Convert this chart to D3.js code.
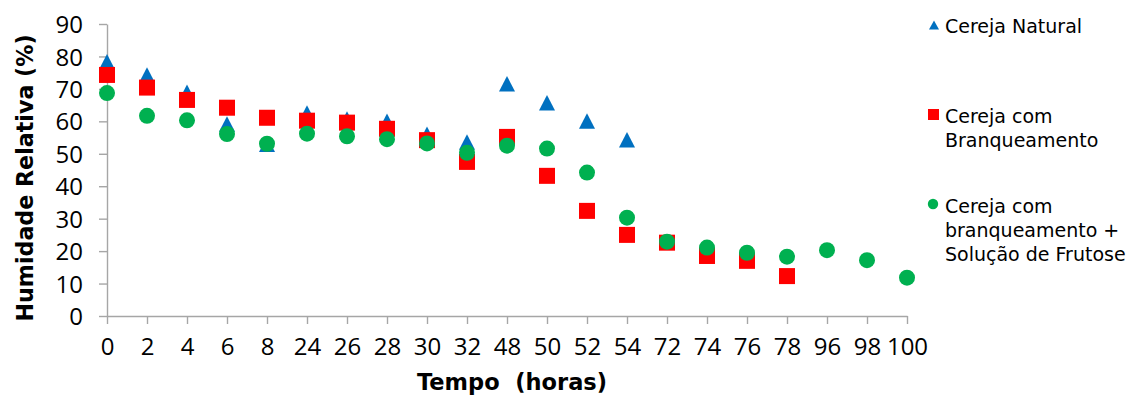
<!DOCTYPE html>
<html>
<head>
<meta charset="utf-8">
<script src="https://cdn.jsdelivr.net/npm/d3@7"></script>
<style>
  html, body { margin: 0; padding: 0; background: #fff; }
  svg { display: block; }
</style>
</head>
<body>
<svg id="chart" width="1131" height="396"></svg>
<script>
// Tempo (horas) categories
const categories = ["0","2","4","6","8","24","26","28","30","32","48","50","52","54","72","74","76","78","96","98","100"];

// Humidade relativa (%) for each sample
const cerejaNatural = [78.4, 74.3, 69.0, 59.2, 52.9, 62.6, 60.7, 60.0, 56.0, 53.6, 71.6, 65.7, 60.1, 54.3];
const cerejaBranqueamento = [74.3, 70.4, 66.6, 64.2, 61.1, 60.2, 59.6, 57.7, 54.2, 47.5, 55.2, 43.2, 32.4, 25.0, 22.6, 18.5, 17.0, 12.3];
const cerejaFrutose = [68.7, 61.7, 60.3, 56.1, 53.1, 56.2, 55.4, 54.5, 53.2, 50.3, 52.5, 51.6, 44.2, 30.3, 22.9, 21.1, 19.5, 18.3, 20.3, 17.2, 11.8];

const yTicks = [0, 10, 20, 30, 40, 50, 60, 70, 80, 90];

const legendLabels = [
  ["Cereja Natural"],
  ["Cereja com", "Branqueamento"],
  ["Cereja com", "branqueamento +", "Solução de Frutose"]
];

const colors = { blue: "#0070C0", red: "#FF0000", green: "#00B050" };
const axisColor = "#A6A6A6";

const svg = d3.select("#chart");

const x = d3.scalePoint().domain(categories).range([107, 907]);
const y = d3.scaleLinear().domain([0, 90]).range([316, 24]);

// Axes
const gx = svg.append("g")
  .attr("transform", `translate(0,${y(0)})`)
  .call(d3.axisBottom(x).tickSize(8).tickSizeOuter(0).tickPadding(6));
const gy = svg.append("g")
  .attr("transform", `translate(${x("0")},0)`)
  .call(d3.axisLeft(y).tickValues(yTicks).tickSize(8).tickSizeOuter(0).tickPadding(16));

[gx, gy].forEach(g => {
  g.select(".domain").attr("stroke", axisColor).attr("stroke-width", 1.4);
  g.selectAll(".tick line").attr("stroke", axisColor).attr("stroke-width", 1.4);
  g.selectAll(".tick text")
    .attr("fill", "#000")
    .style("font-family", "'Open Sans', 'Liberation Sans', sans-serif")
    .style("font-size", "24px");
});
gx.selectAll(".tick text").attr("dy", null).attr("y", 0).attr("transform", "translate(0,39)");
gy.selectAll(".tick text").attr("dy", "0.36em");

// Axis titles
svg.append("text")
  .attr("x", 512).attr("y", 390)
  .attr("text-anchor", "middle")
  .attr("xml:space", "preserve")
  .style("white-space", "pre")
  .style("font-family", "'DejaVu Sans', sans-serif")
  .style("font-weight", "bold")
  .style("font-size", "22.5px")
  .text("Tempo  (horas)");

svg.append("text")
  .attr("transform", "translate(33,178) rotate(-90)")
  .attr("text-anchor", "middle")
  .style("font-family", "'DejaVu Sans', sans-serif")
  .style("font-weight", "bold")
  .style("font-size", "22.2px")
  .text("Humidade Relativa (%)");

// Marker shapes
function trianglePath(cx, cy, w, h) {
  return `M${cx},${cy - h / 2}L${cx + w / 2},${cy + h / 2}L${cx - w / 2},${cy + h / 2}Z`;
}

const plot = svg.append("g");

plot.selectAll("path.nat")
  .data(cerejaNatural)
  .join("path")
  .attr("class", "nat")
  .attr("d", (d, i) => trianglePath(x(categories[i]), y(d), 16, 15.5))
  .attr("fill", colors.blue);

plot.selectAll("rect.bra")
  .data(cerejaBranqueamento)
  .join("rect")
  .attr("class", "bra")
  .attr("x", (d, i) => x(categories[i]) - 8)
  .attr("y", d => y(d) - 8)
  .attr("width", 16).attr("height", 16)
  .attr("fill", colors.red);

plot.selectAll("circle.fru")
  .data(cerejaFrutose)
  .join("circle")
  .attr("class", "fru")
  .attr("cx", (d, i) => x(categories[i]))
  .attr("cy", d => y(d))
  .attr("r", 8)
  .attr("fill", colors.green);

// Legend
const legend = svg.append("g");
legend.append("path").attr("d", trianglePath(934, 25, 10, 9)).attr("fill", colors.blue);
legend.append("rect").attr("x", 928).attr("y", 109).attr("width", 11).attr("height", 11).attr("fill", colors.red);
legend.append("circle").attr("cx", 933).attr("cy", 204).attr("r", 5.2).attr("fill", colors.green);

const legendBaselines = [[33], [123, 146.5], [213, 237, 261]];
legendLabels.forEach((lines, si) => {
  lines.forEach((line, li) => {
    legend.append("text")
      .attr("x", 945)
      .attr("y", legendBaselines[si][li])
      .style("font-family", "'DejaVu Sans', sans-serif")
      .style("font-size", "19px")
      .attr("fill", "#000")
      .text(line);
  });
});
</script>
</body>
</html>
